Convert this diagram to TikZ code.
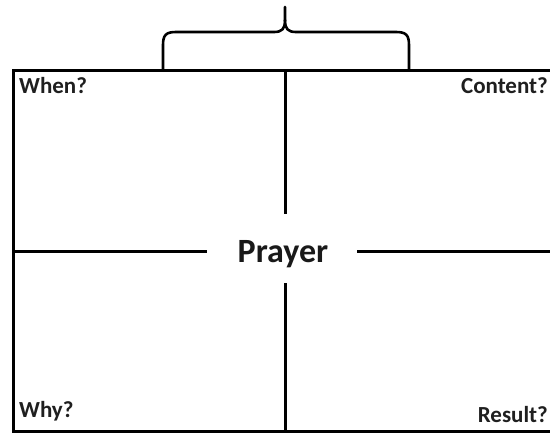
\documentclass[tikz,border=0pt]{standalone}
\usepackage{fontspec}
\setmainfont{Carlito}
\begin{document}
\begin{tikzpicture}[x=1pt,y=-1pt,
  frame/.style={line width=3pt,black},
  bracepath/.style={line width=2.6pt,black,line cap=round,line join=round},
  corner/.style={font=\fontsize{23}{23}\selectfont\bfseries,text=black!88,inner sep=0pt},
  title/.style={font=\fontsize{34}{34}\selectfont\bfseries,text=black!90,inner sep=0pt}]
\useasboundingbox (0,0) rectangle (550,434);
\clip (0,0) rectangle (550,434);
\fill[white] (0,0) rectangle (550,434);
% frame
\draw[frame] (556,70) -- (13,70) -- (13,431) -- (556,431);
% cross lines with gap round the title
\draw[frame] (13,251) -- (207,251);
\draw[frame] (357,251) -- (556,251);
\draw[frame] (285,70) -- (285,214);
\draw[frame] (285,283) -- (285,431);
% brace
\draw[bracepath] (163,70) -- (163,45) .. controls (163,35) and (166,32) .. (176,32)
  -- (274,32) .. controls (282,32) and (285,29) .. (285,20) -- (285,7);
\draw[bracepath] (409,70) -- (409,45) .. controls (409,35) and (406,32) .. (396,32)
  -- (296,32) .. controls (288,32) and (285,29) .. (285,20);
% texts
\node[title,anchor=base] (prayer) at (283,262) {Prayer};
\node[corner,anchor=base west] (when) at (19,93) {When?};
\node[corner,anchor=base east] (content) at (548,93) {Content?};
\node[corner,anchor=base west] (why) at (19,417) {Why?};
\node[corner,anchor=base east] (result) at (548,422) {Result?};
\end{tikzpicture}
\end{document}
